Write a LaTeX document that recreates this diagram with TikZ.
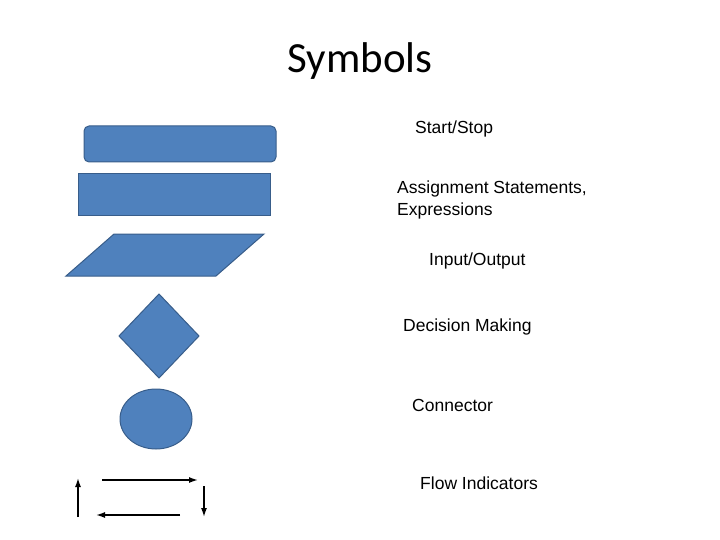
\documentclass[tikz,border=0pt]{standalone}
\usepackage{fontspec}
\setmainfont{Liberation Sans}
\newfontfamily\titlefont{Carlito}
\usetikzlibrary{shapes.geometric,arrows.meta}
\definecolor{shapefill}{HTML}{4F81BD}
\definecolor{shapeline}{HTML}{385D8A}
\begin{document}
\begin{tikzpicture}[x=1pt,y=-1pt,
  sym/.style={fill=shapefill,draw=shapeline,line width=1pt},
  lbl/.style={anchor=west,font=\fontsize{17.5}{20}\selectfont,inner sep=0pt},
  flow/.style={-{Latex[length=9pt,width=6pt]},line width=1.5pt,black}]
\useasboundingbox (0,0) rectangle (720,540);
\node (title) at (360,61) {\titlefont\fontsize{43}{50}\selectfont Symbols};
\draw[sym,rounded corners=5pt] (84,126) rectangle (276,162);
\draw[sym] (78,174) rectangle (270,216);
\draw[sym] (66,276) -- (114,234) -- (264,234) -- (216,276) -- cycle;
\draw[sym] (159,294) -- (199,336) -- (159,378) -- (119,336) -- cycle;
\draw[sym] (156,419) ellipse [x radius=36, y radius=30];
\coordinate (r1) at (102,480); \coordinate (r2) at (198,480);
\coordinate (l1) at (180,515); \coordinate (l2) at (96,515);
\coordinate (u1) at (78,517); \coordinate (u2) at (78,478);
\coordinate (d1) at (204,486); \coordinate (d2) at (204,517);
\draw[flow] (r1) -- (r2);
\draw[flow] (l1) -- (l2);
\draw[flow] (u1) -- (u2);
\draw[flow] (d1) -- (d2);
\node[lbl] (t1) at (415,129) {Start/Stop};
\node[lbl] (t2) at (397,189) {Assignment Statements,};
\node[lbl] (t2b) at (397,211) {Expressions};
\node[lbl] (t3) at (429,261) {Input/Output};
\node[lbl] (t4) at (403,327) {Decision Making};
\node[lbl] (t5) at (412,405) {Connector};
\node[lbl] (t6) at (420,483) {Flow Indicators};
\end{tikzpicture}
\end{document}
